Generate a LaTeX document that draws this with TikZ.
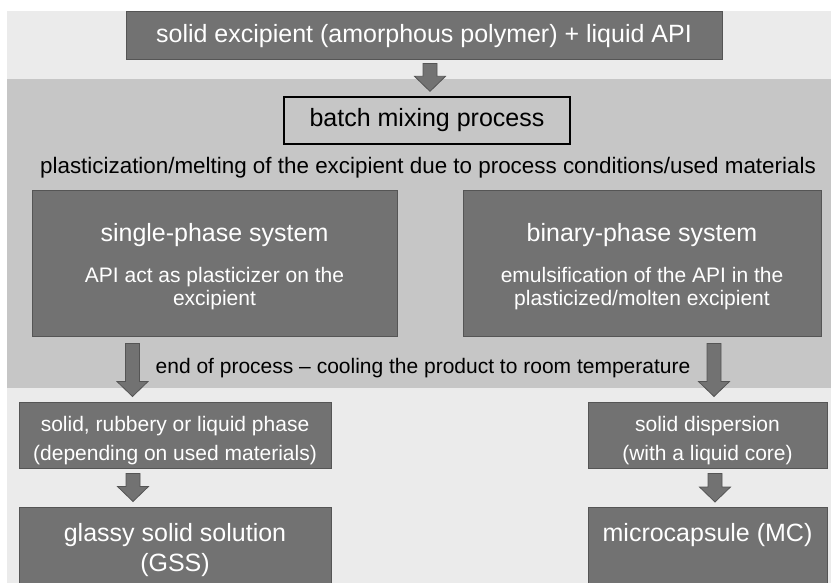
\documentclass[tikz,border=0pt]{standalone}
\usepackage{fontspec}
\setmainfont{Liberation Sans}
\usetikzlibrary{calc,positioning}

\definecolor{bglight}{HTML}{EBEBEB}
\definecolor{bandgray}{HTML}{C6C6C6}
\definecolor{boxgray}{HTML}{727272}
\definecolor{linegray}{HTML}{555555}

\newcommand{\bigtxt}{\fontsize{25}{28}\selectfont}
\newcommand{\smalltxt}{\fontsize{21}{23}\selectfont}
\newcommand{\freetxt}{\fontsize{22.4}{25}\selectfont}

\begin{document}
\begin{tikzpicture}[x=1pt,y=-1pt,
	greybox/.style={draw=linegray, line width=1pt, fill=boxgray, text=white, align=center, inner sep=0pt},
	mixbox/.style={draw=black, line width=1.3pt, fill=bandgray, inner sep=0pt},
	fatarrow/.style={draw=linegray, line width=0.8pt, fill=boxgray,
		to path={let \p1=(\tikztostart), \p2=(\tikztotarget) in
			(\x1-7pt,\y1) -- (\x1+7pt,\y1) -- (\x1+7pt,\y2+15pt) -- (\x1+15.5pt,\y2+15pt)
			-- (\x1,\y2) -- (\x1-15.5pt,\y2+15pt) -- (\x1-7pt,\y2+15pt) -- cycle}}]
		\useasboundingbox (0,0) rectangle (831,583);
		\clip (0,0) rectangle (831,583);
		
		\fill[white] (0,0) rectangle (831,583);
		\fill[bglight] (7,11) rectangle (831,583);
		\fill[bandgray] (7,79) rectangle (831,388);
		
		\node[greybox, minimum width=596, minimum height=48, font=\bigtxt] (start) at (424,36) {solid excipient (amorphous polymer) + liquid API};
		\node[mixbox, minimum width=286, minimum height=47, font=\bigtxt] (mix) at (427,120.5) {batch mixing process};
		\node[font=\freetxt] (melt) at (428,168) {plasticization/melting of the excipient due to process conditions/used materials};
		
		\node[greybox, minimum width=365, minimum height=145, text height=88pt, font=\smalltxt] (single) at (214.5,263.5) {{\bigtxt single-phase system}\\[18pt]API act as plasticizer on the\\excipient};
		\node[greybox, minimum width=358, minimum height=145, text height=88pt, font=\smalltxt] (binary) at (642,263.5) {{\bigtxt binary-phase system}\\[18pt]emulsification of the API in the\\plasticized/molten excipient};
		\node[font=\smalltxt] (cool) at (423,368) {end of process -- cooling the product to room temperature};
		
		\node[greybox, minimum width=312, minimum height=66, text height=56pt, font=\smalltxt] (rubbery) at (175,435) {solid, rubbery or liquid phase\\[6pt](depending on used materials)};
		\node[greybox, minimum width=239, minimum height=66, text height=56pt, font=\smalltxt] (disp) at (707.5,435) {solid dispersion\\[6pt](with a liquid core)};
		\node[greybox, minimum width=312, minimum height=86, font=\bigtxt] (gss) at (175,550) {glassy solid solution\\[2pt](GSS)};
		\node[greybox, anchor=north, minimum width=239, text height=34pt, text depth=50pt, font=\bigtxt] (mc) at (707.5,507) {microcapsule (MC)};
		
		\draw[fatarrow] ([shift={(6pt,-3pt)}]start.south) to ([yshift=5pt]mix.north);
		\draw[fatarrow] ([shift={(-82pt,-7pt)}]single.south) to ([yshift=5pt]rubbery.north);
		\draw[fatarrow] ([shift={(72pt,-7pt)}]binary.south) to ([yshift=5pt]disp.north);
		\draw[fatarrow] ([shift={(-42pt,-5pt)}]rubbery.south) to ([yshift=5pt]gss.north);
		\draw[fatarrow] ([shift={(7.5pt,-5pt)}]disp.south) to ([yshift=5pt]mc.north);
\end{tikzpicture}
\end{document}
